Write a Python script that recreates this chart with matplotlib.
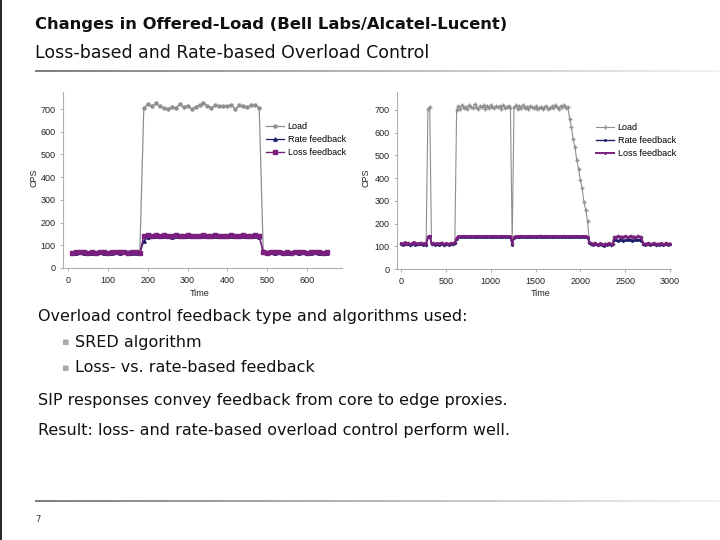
import numpy as np
import matplotlib
matplotlib.use("Agg")
import matplotlib.pyplot as plt
from matplotlib.lines import Line2D

# ---- left chart data (time step 10) ----
t_left = np.arange(10, 651, 10)
load_left = [
    68, 70, 72, 68, 66, 69, 67, 70, 68, 66, 69, 71, 68, 72, 70, 68, 69, 66,
    705, 722, 712, 725, 713, 705, 702, 708, 706, 720, 708, 715, 700, 710, 718,
    725, 715, 706, 716, 712, 714, 713, 718, 700, 716, 712, 710, 716, 718, 705,
    75, 70, 72, 68, 70, 67, 69, 66, 71, 68, 70, 67, 69, 71, 68, 67, 69,
]
rate_left = [
    66, 68, 70, 67, 65, 68, 66, 69, 67, 65, 68, 69, 67, 70, 66, 68, 67, 64,
    118, 138, 141, 140, 142, 139, 141, 138, 140, 141, 139, 140, 141, 140, 139,
    141, 140, 139, 141, 140, 139, 140, 141, 139, 140, 141, 140, 139, 141, 138,
    72, 66, 70, 68, 69, 66, 68, 65, 70, 67, 69, 66, 68, 70, 67, 66, 68,
]
loss_left = [
    68, 70, 72, 69, 67, 70, 68, 71, 69, 67, 70, 71, 69, 72, 68, 70, 69, 66,
    143, 144, 143, 145, 142, 144, 141, 143, 144, 142, 143, 144, 142, 143, 141,
    144, 143, 142, 144, 143, 142, 143, 144, 142, 143, 144, 143, 142, 144, 141,
    70, 68, 72, 70, 71, 68, 70, 67, 72, 69, 71, 68, 70, 72, 69, 68, 70,
]

# ---- right chart data (time step 20) ----
t_right = np.arange(0, 3001, 20)
load_right = [
    112, 108, 115, 110, 113, 107, 111, 116, 109, 112, 110, 114, 108, 111, 106,
    705, 715,
    110, 113, 108, 112, 109, 111, 114, 107, 112, 110, 108, 113, 111, 115,
    700, 718, 705, 722, 710, 714, 703, 720, 712, 708, 725, 715, 706, 718, 711,
    720, 704, 716, 709, 722, 713, 707, 719, 711, 716, 705, 721, 710, 714, 718, 708,
    108,
    712, 720, 705, 716, 710, 722, 708, 714, 703, 718, 711, 707, 716, 702, 709,
    714, 706, 712, 718, 704, 710, 716, 708, 720, 713, 706, 718, 712, 722, 709, 714,
    660, 625, 570, 535, 480, 440, 390, 355, 295, 260, 212,
    118, 112, 108, 114, 110, 106, 112, 109, 105, 111, 108, 113, 107, 110,
    142, 140, 145, 141, 143, 139, 144, 142, 140, 146, 141, 143, 139, 144, 142, 140,
    112, 108, 111, 114, 109, 110, 113, 107, 111, 109, 112, 108, 110, 113, 109, 111,
]
rate_right = [
    110, 106, 112, 108, 111, 105, 109, 113, 107, 110, 108, 111, 106, 109, 104,
    140, 145,
    108, 111, 106, 110, 107, 109, 112, 105, 110, 108, 106, 111, 109, 113,
    132, 140, 142, 141, 143, 142, 141, 142, 143, 142, 141, 142, 143, 142, 141,
    142, 142, 143, 141, 142, 142, 143, 142, 141, 142, 143, 142, 141, 142, 142, 141,
    105,
    138, 142, 141, 142, 143, 142, 141, 142, 142, 143, 142, 141, 142, 143, 142,
    142, 141, 142, 143, 142, 142, 141, 142, 143, 142, 142, 141, 142, 143, 142, 142,
    142, 141, 142, 143, 142, 142, 141, 142, 143, 142, 138,
    115, 110, 106, 112, 108, 104, 110, 107, 103, 109, 106, 111, 105, 108,
    126, 128, 125, 129, 127, 124, 128, 126, 129, 127, 125, 128, 126, 129, 127, 125,
    110, 106, 109, 112, 107, 108, 111, 105, 109, 107, 110, 106, 108, 111, 107, 109,
]
loss_right = [
    114, 110, 117, 112, 115, 109, 113, 118, 111, 114, 112, 116, 110, 113, 108,
    143, 147,
    112, 115, 110, 114, 111, 113, 116, 109, 114, 112, 110, 115, 113, 117,
    138, 144, 145, 144, 146, 145, 144, 145, 146, 145, 144, 145, 146, 145, 144,
    145, 145, 146, 144, 145, 145, 146, 145, 144, 145, 146, 145, 144, 145, 145, 144,
    112,
    142, 145, 144, 145, 146, 145, 144, 145, 145, 146, 145, 144, 145, 146, 145,
    147, 144, 145, 146, 145, 145, 144, 145, 146, 145, 145, 144, 145, 146, 145, 145,
    145, 144, 145, 146, 145, 145, 144, 145, 146, 145, 142,
    118, 113, 109, 115, 111, 107, 113, 110, 106, 112, 109, 114, 108, 111,
    142, 140, 145, 141, 143, 139, 144, 142, 140, 146, 141, 143, 139, 144, 142, 140,
    113, 109, 112, 115, 110, 111, 114, 108, 112, 110, 113, 109, 111, 114, 110, 112,
]

series_names = ["Load", "Rate feedback", "Loss feedback"]
y_ticks = [0, 100, 200, 300, 400, 500, 600, 700]
x_ticks_left = [0, 100, 200, 300, 400, 500, 600]
x_ticks_right = [0, 500, 1000, 1500, 2000, 2500, 3000]

title = "Changes in Offered-Load (Bell Labs/Alcatel-Lucent)"
subtitle = "Loss-based and Rate-based Overload Control"
body_lines = [
    "Overload control feedback type and algorithms used:",
    "SIP responses convey feedback from core to edge proxies.",
    "Result: loss- and rate-based overload control perform well.",
]
bullets = ["SRED algorithm", "Loss- vs. rate-based feedback"]

LOAD_C = "#8f8f8f"
RATE_C = "#1c1c6b"
LOSS_C = "#7a1f7e"
W, H = 720, 540


def px(x, y):
    return x / W, 1 - y / H


def style_axes(ax, xticks, xlim, ylim):
    for s in ["top", "right"]:
        ax.spines[s].set_visible(False)
    for s in ["left", "bottom"]:
        ax.spines[s].set_color("#b0b0b0")
        ax.spines[s].set_linewidth(0.8)
    ax.set_xlim(*xlim)
    ax.set_ylim(*ylim)
    ax.set_xticks(xticks)
    ax.set_yticks(y_ticks)
    ax.tick_params(axis="both", labelsize=6.5, colors="#b0b0b0",
                   labelcolor="#222222", length=2.5, width=0.7, pad=3)
    for lab in ax.get_xticklabels() + ax.get_yticklabels():
        lab.set_family("Liberation Sans")


def add_legend(fig, ax, x, y):
    ax.legend(loc="upper left", bbox_to_anchor=px(x, y),
              bbox_transform=fig.transFigure, frameon=False,
              prop={"family": "Liberation Sans", "size": 6.5},
              handlelength=2.0, handletextpad=0.4, labelspacing=0.45,
              borderaxespad=0, borderpad=0)


def gradient_bar(fig, x0, y0, x1, thick):
    left, top = px(x0, y0)
    gax = fig.add_axes([left, top - thick / H, (x1 - x0) / W, thick / H])
    grad = np.linspace(0.5, 0.95, 256).reshape(1, -1)
    gax.imshow(grad, aspect="auto", cmap="gray", vmin=0, vmax=1)
    gax.set_axis_off()


fig = plt.figure(figsize=(7.2, 5.4), dpi=100)
fig.patch.set_facecolor("white")

# ---- left chart ----
ax1 = fig.add_axes([63 / W, 1 - 268 / H, 279 / W, 176 / H])
ax1.plot(t_left, load_left, color=LOAD_C, lw=0.9, marker="o", ms=2.2,
         label=series_names[0])
ax1.plot(t_left, rate_left, color=RATE_C, lw=0.9, marker="^", ms=2.4,
         label=series_names[1])
ax1.plot(t_left, loss_left, color=LOSS_C, lw=1.0, marker="s", ms=2.2,
         label=series_names[2])
style_axes(ax1, x_ticks_left, (-13, 688), (0, 775))
add_legend(fig, ax1, 266, 122)

# ---- right chart ----
ax2 = fig.add_axes([397 / W, 1 - 269 / H, 274 / W, 177 / H])
ax2.plot(t_right, load_right, color=LOAD_C, lw=0.8, marker="+", ms=2.2,
         label=series_names[0])
ax2.plot(t_right, rate_right, color=RATE_C, lw=1.0, marker=".", ms=2.2,
         label=series_names[1])
ax2.plot(t_right, loss_right, color=LOSS_C, lw=1.4, marker=".", ms=2.2,
         label=series_names[2])
style_axes(ax2, x_ticks_right, (-45, 3011), (0, 779))
add_legend(fig, ax2, 596, 123)

# axis titles
for (x, y) in [(34, 178), (366, 178)]:
    fig.text(*px(x, y), "CPS", rotation=90, ha="center", va="center",
             fontsize=6.5, family="Liberation Sans", color="#222222")
for (x, y) in [(200, 293), (541, 293)]:
    fig.text(*px(x, y), "Time", ha="center", va="center",
             fontsize=6.5, family="Liberation Sans", color="#222222")

# ---- slide text ----
fig.text(*px(35, 24), title, ha="left", va="center", fontsize=11.8,
         fontweight="bold", color="#111111")
fig.text(*px(35, 53), subtitle, ha="left", va="center", fontsize=12.5,
         color="#111111")
gradient_bar(fig, 35, 70, 720, 2.5)

fig.text(*px(38, 317), body_lines[0], ha="left", va="center", fontsize=11.5,
         color="#111111")
for y, b in zip([342, 368], bullets):
    fig.text(*px(62, y), "\u25aa", ha="left", va="center", fontsize=8,
             color="#a8a8a8")
    fig.text(*px(75, y), b, ha="left", va="center", fontsize=11.5,
             color="#111111")
fig.text(*px(38, 400), body_lines[1], ha="left", va="center", fontsize=11.5,
         color="#111111")
fig.text(*px(38, 430), body_lines[2], ha="left", va="center", fontsize=11.5,
         color="#111111")

gradient_bar(fig, 35, 500, 720, 2.5)
fig.text(*px(35, 519), "7", ha="left", va="center", fontsize=6,
         color="#333333")

fig.add_artist(Line2D([0.6 / W, 0.6 / W], [0, 1], color="black", lw=1.2))

fig.savefig("out.png", dpi=100)
